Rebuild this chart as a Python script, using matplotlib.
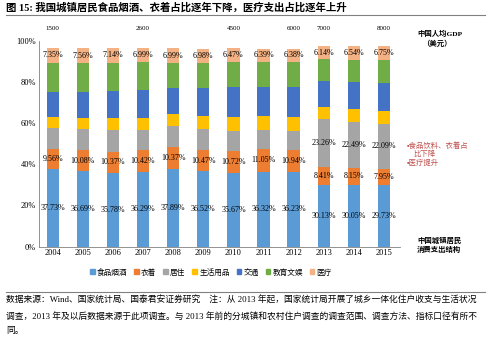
import numpy as np
import matplotlib
matplotlib.use("Agg")
import matplotlib.pyplot as plt
from matplotlib.patches import Patch
from matplotlib.transforms import blended_transform_factory

plt.rcParams['font.family'] = ['Liberation Serif', 'Noto Sans CJK SC', 'DejaVu Sans']

years = ['2004', '2005', '2006', '2007', '2008', '2009', '2010', '2011', '2012', '2013', '2014', '2015']
food = [37.73, 36.69, 35.78, 36.29, 37.89, 36.52, 35.67, 36.32, 36.23, 30.13, 30.05, 29.73]
clothing = [9.56, 10.08, 10.37, 10.42, 10.37, 10.47, 10.72, 11.05, 10.94, 8.41, 8.15, 7.95]
residence = [10.21, 10.18, 10.40, 9.83, 10.19, 10.02, 9.89, 9.27, 8.90, 23.26, 22.49, 22.09]
household = [5.67, 5.62, 5.73, 6.02, 6.15, 6.42, 6.74, 6.75, 6.69, 6.13, 6.23, 6.11]
transport = [11.75, 12.55, 13.19, 13.58, 12.60, 13.72, 14.73, 14.18, 14.73, 12.47, 13.21, 13.53]
education = [14.38, 13.82, 13.83, 13.29, 12.08, 12.01, 12.08, 12.21, 12.20, 10.75, 10.72, 11.14]
medical = [7.35, 7.56, 7.14, 6.99, 6.99, 6.98, 6.47, 6.39, 6.38, 6.14, 6.54, 6.75]

names = ['食品烟酒', '衣着', '居住', '生活用品', '交通', '教育文娱', '医疗']
colors = ['#5B9BD5', '#ED7D31', '#A5A5A5', '#FFC000', '#4472C4', '#70AD47', '#F4B183']

gdp_idx = [0, 3, 6, 8, 9, 11]
gdp_vals = ['1500', '2600', '4500', '6000', '7000', '8000']

W, H = 499, 337
fig = plt.figure(figsize=(W / 100, H / 100), dpi=100)


def px(x, y):
    return x / W, 1 - y / H


ax = fig.add_axes([39 / W, 1 - 246.7 / H, (400 - 39) / W, (246.7 - 40.7) / H])

series = [food, clothing, residence, household, transport, education, medical]
x = np.arange(len(years))
bottom = np.zeros(len(years))
for k, (vals, c) in enumerate(zip(series, colors)):
    vals = np.array(vals)
    ax.bar(x, vals, 0.41, bottom=bottom, color=c, linewidth=0)
    for i in range(len(years)):
        # labels only on food, clothing, medical, and residence after 2013
        if k in (0, 1, 6) or (k == 2 and i >= 9):
            ax.text(x[i], bottom[i] + vals[i] / 2, '%.2f%%' % vals[i],
                    ha='center', va='center', fontsize=5.8, color='black')
    bottom += vals

ax.set_xlim(-0.455, 11.53)
ax.set_ylim(0, 100)
ax.set_xticks(x)
ax.set_xticklabels(years, fontsize=6)
ax.set_yticks(np.arange(0, 101, 20))
ax.set_yticklabels(['%d%%' % v for v in range(0, 101, 20)], fontsize=6)
for s in ['top', 'right']:
    ax.spines[s].set_visible(False)
for s in ['left', 'bottom']:
    ax.spines[s].set_color('#808080')
    ax.spines[s].set_linewidth(0.6)
ax.tick_params(axis='both', length=0, pad=2)

# GDP per capita above the bars
trans = blended_transform_factory(ax.transData, fig.transFigure)
for i, v in zip(gdp_idx, gdp_vals):
    ax.text(x[i], 1 - 28 / H, v, transform=trans, ha='center', va='center', fontsize=5)

# title and rule
fig.text(*px(6, 7), '图 15: 我国城镇居民食品烟酒、衣着占比逐年下降，医疗支出占比逐年上升',
         ha='left', va='center', fontsize=7.5, fontweight='bold')
fig.add_artist(plt.Line2D([6 / W, 485 / W], [1 - 14.5 / H] * 2, color='#808080', lw=0.8))

# right side notes
fig.text(*px(440, 33), '中国人均GDP', ha='center', va='center', fontsize=5.3, fontweight='bold')
fig.text(*px(437, 43), '（美元）', ha='center', va='center', fontsize=5.3, fontweight='bold')
red = '#C0504D'
fig.text(*px(407, 145), '▪食品饮料、衣着占', ha='left', va='center', fontsize=5.3, color=red)
fig.text(*px(413, 153), '比下降', ha='left', va='center', fontsize=5.3, color=red)
fig.text(*px(407, 162), '▪医疗提升', ha='left', va='center', fontsize=5.3, color=red)
fig.text(*px(417, 240), '中国城镇居民', ha='left', va='center', fontsize=5.3, fontweight='bold')
fig.text(*px(417, 249), '消费支出结构', ha='left', va='center', fontsize=5.3, fontweight='bold')

# legend
handles = [Patch(color=c, label=n) for n, c in zip(names, colors)]
fig.legend(handles=handles, loc='center', bbox_to_anchor=px(211, 272.5), ncol=7,
           frameon=False, fontsize=5.5, handlelength=0.6, handleheight=0.6,
           handletextpad=0.3, columnspacing=0.9)

# source rule and notes
fig.add_artist(plt.Line2D([6 / W, 485 / W], [1 - 291.7 / H] * 2, color='#808080', lw=0.8))
fig.text(*px(6, 300), '数据来源：Wind、国家统计局、国泰君安证券研究    注：从 2013 年起，国家统计局开展了城乡一体化住户收支与生活状况',
         ha='left', va='center', fontsize=6.3)
fig.text(*px(6, 316), '调查，2013 年及以后数据来源于此项调查。与 2013 年前的分城镇和农村住户调查的调查范围、调查方法、指标口径有所不',
         ha='left', va='center', fontsize=6.3)
fig.text(*px(6, 331), '同。', ha='left', va='center', fontsize=6.3)

fig.savefig('out.png', dpi=100)
